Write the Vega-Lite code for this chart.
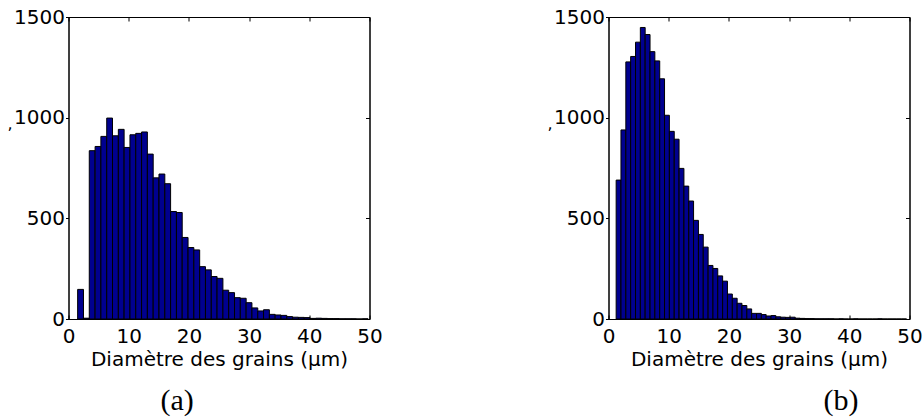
{
  "$schema": "https://vega.github.io/schema/vega-lite/v6.json",
  "padding": {"left": 5.5, "top": 6, "right": 0, "bottom": 0},
  "background": "white",
  "spacing": 162,
  "config": {
    "font": "DejaVu Sans",
    "view": {"stroke": "black", "strokeWidth": 1},
    "axis": {
      "grid": false,
      "domainColor": "black",
      "tickColor": "black",
      "labelColor": "black",
      "titleColor": "black",
      "labelFont": "DejaVu Sans",
      "titleFont": "DejaVu Sans",
      "labelFontSize": 20,
      "titleFontSize": 20,
      "titleFontWeight": "normal",
      "labelFlush": false,
      "labelOverlap": false,
      "format": "d"
    }
  },
  "hconcat": [
    {
      "width": 301,
      "height": 302,
      "title": {"text": "(a)", "orient": "bottom", "anchor": "start", "frame": "group", "dx": 92, "offset": 17, "font": "Liberation Serif", "fontSize": 30, "fontWeight": "normal", "color": "black"},
      "data": {"values": [
        {"start": 1.52, "end": 2.49, "count": 147},
        {"start": 2.49, "end": 3.45, "count": 4},
        {"start": 3.45, "end": 4.42, "count": 836},
        {"start": 4.42, "end": 5.38, "count": 857},
        {"start": 5.38, "end": 6.35, "count": 907},
        {"start": 6.35, "end": 7.31, "count": 998},
        {"start": 7.31, "end": 8.28, "count": 910},
        {"start": 8.28, "end": 9.24, "count": 942},
        {"start": 9.24, "end": 10.21, "count": 852},
        {"start": 10.21, "end": 11.17, "count": 915},
        {"start": 11.17, "end": 12.14, "count": 922},
        {"start": 12.14, "end": 13.10, "count": 929},
        {"start": 13.10, "end": 14.07, "count": 819},
        {"start": 14.07, "end": 15.03, "count": 701},
        {"start": 15.03, "end": 16.00, "count": 720},
        {"start": 16.00, "end": 16.96, "count": 672},
        {"start": 16.96, "end": 17.93, "count": 534},
        {"start": 17.93, "end": 18.89, "count": 529},
        {"start": 18.89, "end": 19.86, "count": 405},
        {"start": 19.86, "end": 20.82, "count": 355},
        {"start": 20.82, "end": 21.79, "count": 343},
        {"start": 21.79, "end": 22.75, "count": 260},
        {"start": 22.75, "end": 23.72, "count": 244},
        {"start": 23.72, "end": 24.68, "count": 211},
        {"start": 24.68, "end": 25.65, "count": 202},
        {"start": 25.65, "end": 26.61, "count": 143},
        {"start": 26.61, "end": 27.58, "count": 131},
        {"start": 27.58, "end": 28.54, "count": 106},
        {"start": 28.54, "end": 29.51, "count": 103},
        {"start": 29.51, "end": 30.47, "count": 81},
        {"start": 30.47, "end": 31.44, "count": 55},
        {"start": 31.44, "end": 32.40, "count": 40},
        {"start": 32.40, "end": 33.37, "count": 46},
        {"start": 33.37, "end": 34.33, "count": 23},
        {"start": 34.33, "end": 35.30, "count": 20},
        {"start": 35.30, "end": 36.26, "count": 18},
        {"start": 36.26, "end": 37.23, "count": 12},
        {"start": 37.23, "end": 38.19, "count": 9},
        {"start": 38.19, "end": 39.16, "count": 8},
        {"start": 39.16, "end": 40.12, "count": 7},
        {"start": 40.12, "end": 41.09, "count": 3},
        {"start": 41.09, "end": 42.05, "count": 4},
        {"start": 42.05, "end": 43.02, "count": 3},
        {"start": 43.02, "end": 43.98, "count": 2},
        {"start": 43.98, "end": 44.95, "count": 2},
        {"start": 44.95, "end": 45.91, "count": 1},
        {"start": 45.91, "end": 46.88, "count": 1},
        {"start": 46.88, "end": 47.84, "count": 1},
        {"start": 47.84, "end": 48.81, "count": 0},
        {"start": 48.81, "end": 49.77, "count": 1}
      ]},
      "layer": [
        {
          "mark": {"type": "bar", "fill": "#00008F", "stroke": "black", "strokeWidth": 1},
          "encoding": {
            "x": {"field": "start", "type": "quantitative", "scale": {"domain": [0, 50], "nice": false},
                  "axis": {"orient": "bottom", "values": [0, 10, 20, 30, 40, 50], "tickSize": -4, "labelPadding": 11, "title": "Diamètre des grains (μm)", "titlePadding": 3}},
            "x2": {"field": "end"},
            "y": {"field": "count", "type": "quantitative", "scale": {"domain": [0, 1500], "nice": false},
                  "axis": {"orient": "left", "values": [0, 500, 1000, 1500], "tickSize": 3, "labelPadding": 1, "title": ",", "titleFontSize": 16, "titleAngle": 0, "titleX": -59, "titleY": 111, "titleBaseline": "alphabetic", "titleAlign": "center"}},
            "y2": {"datum": 0}
          }
        },
        {
          "mark": {"type": "bar", "opacity": 0},
          "encoding": {
            "x": {"field": "start", "type": "quantitative", "scale": {"domain": [0, 50], "nice": false},
                  "axis": {"orient": "top", "values": [0, 10, 20, 30, 40, 50], "tickSize": -4, "labels": false, "title": null}},
            "x2": {"field": "end"},
            "y": {"field": "count", "type": "quantitative", "scale": {"domain": [0, 1500], "nice": false},
                  "axis": {"orient": "right", "values": [0, 500, 1000, 1500], "tickSize": -4, "labels": false, "title": null}},
            "y2": {"datum": 0}
          }
        }
      ],
      "resolve": {"axis": {"x": "independent", "y": "independent"}}
    },
    {
      "width": 301,
      "height": 302,
      "title": {"text": "(b)", "orient": "bottom", "anchor": "start", "frame": "group", "dx": 215, "offset": 17, "font": "Liberation Serif", "fontSize": 30, "fontWeight": "normal", "color": "black"},
      "data": {"values": [
        {"start": 1.27, "end": 2.07, "count": 690},
        {"start": 2.07, "end": 2.88, "count": 939},
        {"start": 2.88, "end": 3.68, "count": 1277},
        {"start": 3.68, "end": 4.49, "count": 1304},
        {"start": 4.49, "end": 5.29, "count": 1375},
        {"start": 5.29, "end": 6.09, "count": 1448},
        {"start": 6.09, "end": 6.90, "count": 1413},
        {"start": 6.90, "end": 7.70, "count": 1328},
        {"start": 7.70, "end": 8.51, "count": 1282},
        {"start": 8.51, "end": 9.31, "count": 1193},
        {"start": 9.31, "end": 10.11, "count": 1012},
        {"start": 10.11, "end": 10.92, "count": 932},
        {"start": 10.92, "end": 11.72, "count": 893},
        {"start": 11.72, "end": 12.53, "count": 748},
        {"start": 12.53, "end": 13.33, "count": 660},
        {"start": 13.33, "end": 14.13, "count": 586},
        {"start": 14.13, "end": 14.94, "count": 490},
        {"start": 14.94, "end": 15.74, "count": 420},
        {"start": 15.74, "end": 16.55, "count": 357},
        {"start": 16.55, "end": 17.35, "count": 266},
        {"start": 17.35, "end": 18.15, "count": 251},
        {"start": 18.15, "end": 18.96, "count": 214},
        {"start": 18.96, "end": 19.76, "count": 188},
        {"start": 19.76, "end": 20.57, "count": 124},
        {"start": 20.57, "end": 21.37, "count": 103},
        {"start": 21.37, "end": 22.17, "count": 78},
        {"start": 22.17, "end": 22.98, "count": 67},
        {"start": 22.98, "end": 23.78, "count": 50},
        {"start": 23.78, "end": 24.59, "count": 28},
        {"start": 24.59, "end": 25.39, "count": 28},
        {"start": 25.39, "end": 26.19, "count": 22},
        {"start": 26.19, "end": 27.00, "count": 15},
        {"start": 27.00, "end": 27.80, "count": 17},
        {"start": 27.80, "end": 28.61, "count": 11},
        {"start": 28.61, "end": 29.41, "count": 9},
        {"start": 29.41, "end": 30.21, "count": 8},
        {"start": 30.21, "end": 31.02, "count": 9},
        {"start": 31.02, "end": 31.82, "count": 4},
        {"start": 31.82, "end": 32.63, "count": 3},
        {"start": 32.63, "end": 33.43, "count": 2},
        {"start": 33.43, "end": 34.23, "count": 2},
        {"start": 34.23, "end": 35.04, "count": 1},
        {"start": 35.04, "end": 35.84, "count": 1},
        {"start": 35.84, "end": 36.65, "count": 1},
        {"start": 36.65, "end": 37.45, "count": 1},
        {"start": 37.45, "end": 38.25, "count": 0},
        {"start": 38.25, "end": 39.06, "count": 1},
        {"start": 39.06, "end": 39.86, "count": 0},
        {"start": 39.86, "end": 40.67, "count": 0},
        {"start": 40.67, "end": 41.47, "count": 1},
        {"start": 41.47, "end": 42.27, "count": 0},
        {"start": 42.27, "end": 43.08, "count": 0},
        {"start": 43.08, "end": 43.88, "count": 0},
        {"start": 43.88, "end": 44.69, "count": 0},
        {"start": 44.69, "end": 45.49, "count": 1},
        {"start": 45.49, "end": 46.29, "count": 0},
        {"start": 46.29, "end": 47.10, "count": 0},
        {"start": 47.10, "end": 47.90, "count": 0},
        {"start": 47.90, "end": 48.71, "count": 0},
        {"start": 48.71, "end": 49.51, "count": 0}
      ]},
      "layer": [
        {
          "mark": {"type": "bar", "fill": "#00008F", "stroke": "black", "strokeWidth": 1},
          "encoding": {
            "x": {"field": "start", "type": "quantitative", "scale": {"domain": [0, 50], "nice": false},
                  "axis": {"orient": "bottom", "values": [0, 10, 20, 30, 40, 50], "tickSize": -4, "labelPadding": 11, "title": "Diamètre des grains (μm)", "titlePadding": 3}},
            "x2": {"field": "end"},
            "y": {"field": "count", "type": "quantitative", "scale": {"domain": [0, 1500], "nice": false},
                  "axis": {"orient": "left", "values": [0, 500, 1000, 1500], "tickSize": 3, "labelPadding": 1, "title": ",", "titleFontSize": 16, "titleAngle": 0, "titleX": -59, "titleY": 111, "titleBaseline": "alphabetic", "titleAlign": "center"}},
            "y2": {"datum": 0}
          }
        },
        {
          "mark": {"type": "bar", "opacity": 0},
          "encoding": {
            "x": {"field": "start", "type": "quantitative", "scale": {"domain": [0, 50], "nice": false},
                  "axis": {"orient": "top", "values": [0, 10, 20, 30, 40, 50], "tickSize": -4, "labels": false, "title": null}},
            "x2": {"field": "end"},
            "y": {"field": "count", "type": "quantitative", "scale": {"domain": [0, 1500], "nice": false},
                  "axis": {"orient": "right", "values": [0, 500, 1000, 1500], "tickSize": -4, "labels": false, "title": null}},
            "y2": {"datum": 0}
          }
        }
      ],
      "resolve": {"axis": {"x": "independent", "y": "independent"}}
    }
  ]
}
